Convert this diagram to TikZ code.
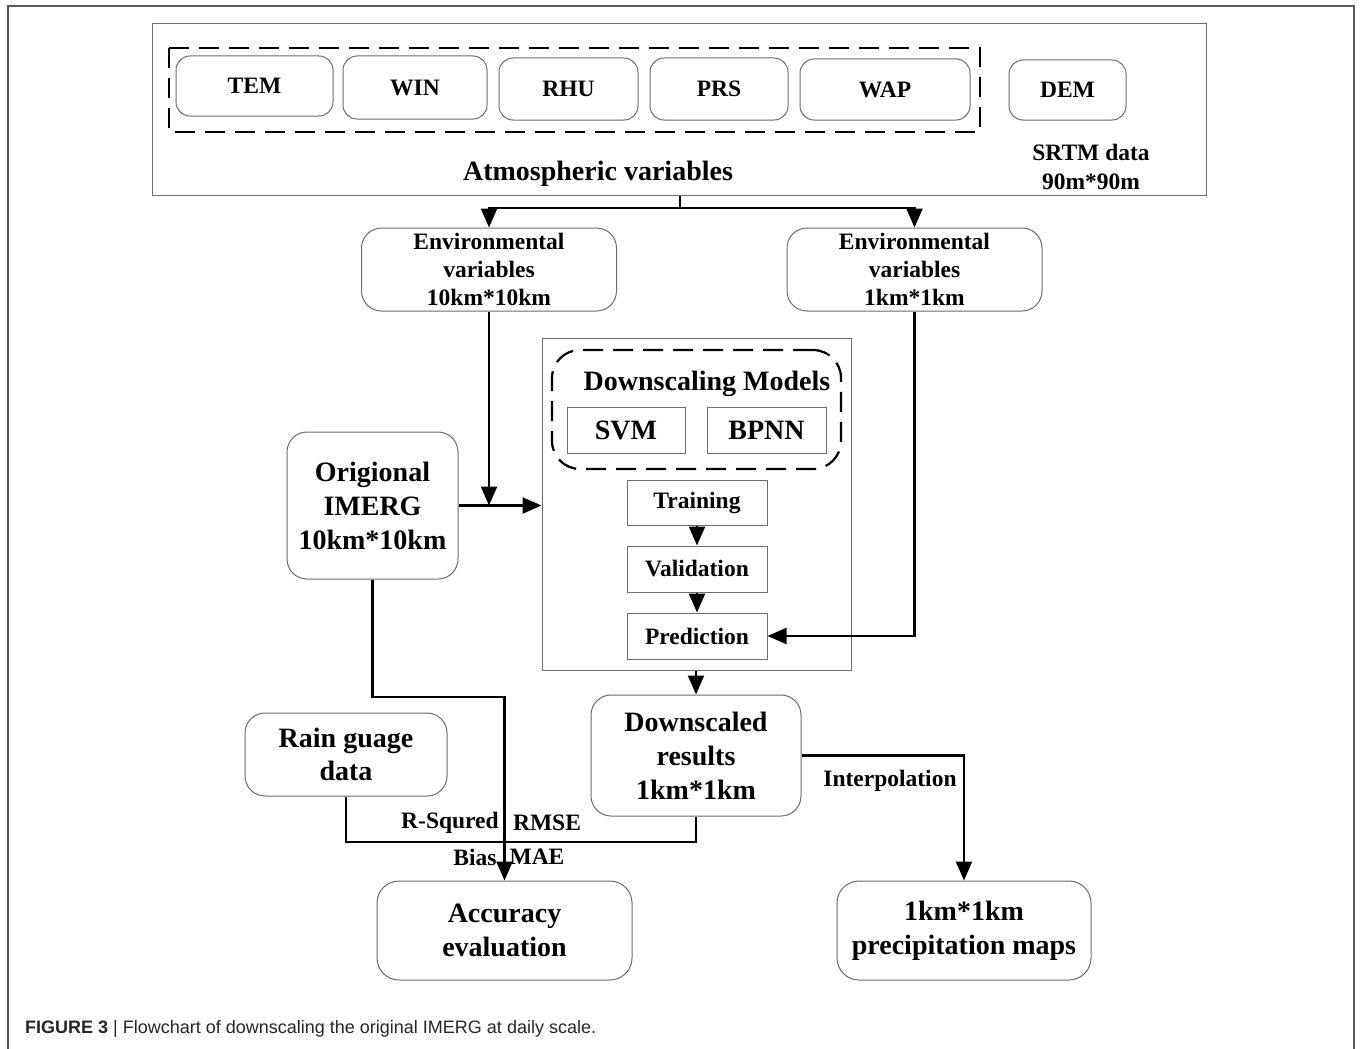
\documentclass[tikz,border=0pt]{standalone}
\usepackage{fontspec}
\setmainfont{Liberation Serif}
\newfontfamily\capfont{Liberation Sans}
\usetikzlibrary{arrows.meta}
\begin{document}
\begin{tikzpicture}[x=1pt,y=-1pt,
  box/.style={draw=gray!85!black, line width=1pt, rounded corners=14pt, align=center, inner sep=0pt, font=\bfseries\fontsize{23.5}{28}\selectfont},
  bigtext/.style={font=\bfseries\fontsize{28}{34}\selectfont},
  smalltext/.style={font=\bfseries\fontsize{23.5}{28}\selectfont},
  sqbox/.style={draw=gray!85!black, line width=1pt, align=center, inner sep=0pt},
  conn/.style={line width=2.4pt, line join=miter},
  arr/.style={conn, -{Triangle[length=19pt,width=16pt]}},
  dsh/.style={line width=2.2pt, dash pattern=on 20pt off 10pt},
  lbl/.style={inner sep=0pt, font=\bfseries\fontsize{23.5}{28}\selectfont}
]
\useasboundingbox (0,0) rectangle (1363,1049);
\fill[white] (0,0) rectangle (1363,1049);
% outer frame
\draw[gray!70!black, line width=1.2pt] (8,1049) -- (8,6) -- (1354,6) -- (1354,1049);
% top box
\node[sqbox, minimum width=1054pt, minimum height=171pt] (atm) at (679,109.5) {};
\draw[dsh] (169,48) rectangle (980,132);
\node[box, minimum width=157pt, minimum height=60pt] (tem) at (254.5,86) {TEM};
\node[box, minimum width=144pt, minimum height=63pt] (win) at (415,87.5) {WIN};
\node[box, minimum width=139pt, minimum height=62pt] (rhu) at (568.5,89) {RHU};
\node[box, minimum width=138pt, minimum height=62pt] (prs) at (719,89) {PRS};
\node[box, minimum width=170pt, minimum height=61pt] (wap) at (885,89.5) {WAP};
\node[box, minimum width=117pt, minimum height=60pt] (dem) at (1067.5,90) {DEM};
\node[lbl, align=center, font=\bfseries\fontsize{23.5}{29}\selectfont] (srtm) at (1091,167) {SRTM data\\90m*90m};
\node[inner sep=0pt, bigtext] (atmlbl) at (598,174) {Atmospheric variables};
% environmental variables
\node[box, rounded corners=20pt, minimum width=255pt, minimum height=83pt] (envL) at (489,269.5) {Environmental\\variables\\10km*10km};
\node[box, rounded corners=20pt, minimum width=255pt, minimum height=83pt] (envR) at (914.5,269.5) {Environmental\\variables\\1km*1km};
\coordinate (j1) at (680,208);
\draw[conn] (atm.south -| j1) -- (j1);
\draw[arr] (j1) -| (envL.north);
\draw[arr] (j1) -| (envR.north);
% IMERG
\node[box, rounded corners=20pt, minimum width=171pt, minimum height=147pt, bigtext] (imerg) at (372.5,505.5) {Origional\\IMERG\\10km*10km};
% big box
\node[sqbox, minimum width=309pt, minimum height=332pt] (big) at (696.5,504) {};
\node[draw, dsh, rounded corners=28pt, minimum width=289pt, minimum height=119pt, inner sep=0pt] (models) at (696.5,409.5) {};
\node[inner sep=0pt, bigtext] (modlbl) at (707,384) {Downscaling Models};
\node[sqbox, minimum width=118pt, minimum height=46pt, bigtext] (svm) at (626,430) {SVM};
\node[sqbox, minimum width=119pt, minimum height=46pt, bigtext] (bpnn) at (766.5,430) {BPNN};
\node[sqbox, minimum width=140pt, minimum height=45pt, smalltext] (train) at (697,502.5) {Training};
\node[sqbox, minimum width=140pt, minimum height=46pt, smalltext] (valid) at (697,569) {Validation};
\node[sqbox, minimum width=140pt, minimum height=46pt, smalltext] (pred) at (697,636) {Prediction};
\draw[arr] (train) -- (valid);
\draw[arr] (valid) -- (pred);
\draw[arr] (envL.south) -- (envL.south |- imerg.east);
\draw[arr] (imerg.east) -- (imerg.east -| big.west);
\draw[arr] (envR.south) |- (pred.east);
% downscaled results
\node[box, rounded corners=20pt, minimum width=210pt, minimum height=121pt, bigtext] (down) at (696,755.5) {Downscaled\\results\\1km*1km};
\draw[arr] (big.south -| down.north) -- (down.north);
% rain gauge
\node[box, rounded corners=20pt, minimum width=202pt, minimum height=83pt, font=\bfseries\fontsize{28}{33}\selectfont] (rain) at (346,754.5) {Rain guage\\data};
% accuracy and maps
\node[box, rounded corners=22pt, minimum width=255pt, minimum height=99pt, bigtext] (acc) at (504.5,930.5) {Accuracy\\evaluation};
\node[box, rounded corners=22pt, minimum width=254pt, minimum height=99pt, bigtext] (maps) at (964,930.5) {1km*1km\\precipitation maps};
\draw[arr] (down.east) -| (maps.north);
\node[lbl] (interp) at (890,781) {Interpolation};
\coordinate (c1) at (acc.north |- 0,697);
\draw[arr] (imerg.south) |- (c1) -- (acc.north);
\coordinate (c2) at (rain.south |- 0,842);
\draw[conn] (rain.south) |- (c2) -| (down.south);
\node[lbl] (rsq) at (450,823) {R-Squred};
\node[lbl] (rmse) at (547,823) {RMSE};
\node[lbl] (bias) at (475,857) {Bias};
\node[lbl] (mae) at (537,857) {MAE};
% caption
\node[anchor=west, inner sep=0pt, font=\capfont\fontsize{18}{22}\selectfont, text=black!85] (cap) at (25,1029) {\textbf{FIGURE 3} | Flowchart of downscaling the original IMERG at daily scale.};
\end{tikzpicture}
\end{document}
